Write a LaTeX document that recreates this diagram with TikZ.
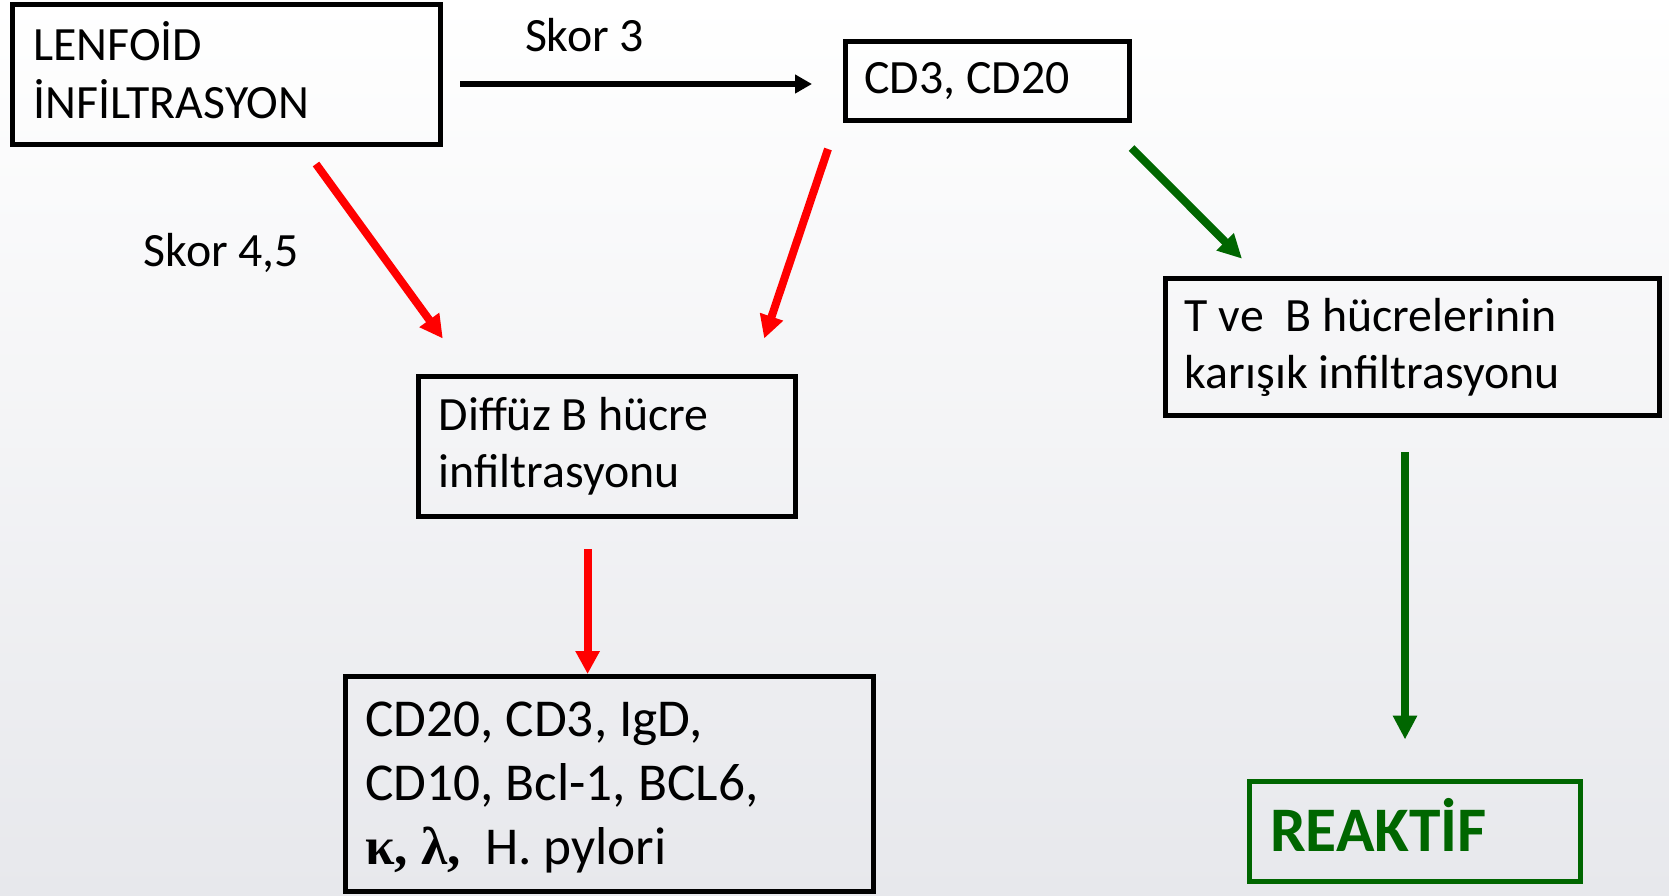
\documentclass[tikz,border=0pt]{standalone}
\usepackage{fontspec}
\setmainfont{Carlito}
\newfontfamily\grk{Liberation Serif}
\usetikzlibrary{arrows.meta}
\definecolor{rgreen}{RGB}{0,102,0}
\definecolor{bgbot}{RGB}{231,232,236}
\definecolor{bgtop}{RGB}{255,255,255}
\begin{document}
\begin{tikzpicture}[x=1pt,y=-1pt,
  box/.style={draw=black,line width=5pt,inner sep=0pt},
  gbox/.style={draw=rgreen,line width=5pt,inner sep=0pt},
  txt/.style={anchor=base west,inner sep=0pt,font=\fontsize{47.8}{57.5}\selectfont},
  txtl/.style={anchor=base west,inner sep=0pt,font=\fontsize{53.3}{64}\selectfont},
  blk/.style={draw=black,line width=6pt,-{Triangle[length=17pt,width=18pt]}},
  red/.style={draw=red,line width=8pt,-{Triangle[length=23pt,width=23pt]}},
  grn/.style={draw=rgreen,line width=8pt,-{Triangle[length=24pt,width=23pt]}}]
\useasboundingbox (0,0) rectangle (1669,895);
\shade[top color=bgtop,bottom color=bgbot] (0,0) rectangle (1669,895);

% boxes
\node[box,minimum width=428pt,minimum height=140pt] (lenf) at (226.5,74.5) {};
\node[box,minimum width=284.5pt,minimum height=79pt] (cd) at (987.7,80.5) {};
\node[box,minimum width=494pt,minimum height=137.6pt] (tvb) at (1412,347) {};
\node[box,minimum width=377pt,minimum height=140pt] (dif) at (607.2,446) {};
\node[box,minimum width=528.3pt,minimum height=215.7pt] (mark) at (609.4,784) {};
\node[gbox,minimum width=331pt,minimum height=100.5pt] (reak) at (1414.5,831.7) {};

% texts
\node[txt] (lenfA) at (33,60.7) {LENFOİD};
\node[txt] (lenfB) at (33,118.1) {İNFİLTRASYON};
\node[txt] (skor3) at (524.8,51) {Skor 3};
\node[txt] (cdA) at (864.3,93.7) {CD3, CD20};
\node[txt] (skor45) at (143.7,266) {Skor 4,5};
\node[txt] (tvbA) at (1184.7,331) {T ve\ \ B hücrelerinin};
\node[txt] (tvbB) at (1184.7,388.5) {karışık infiltrasyonu};
\node[txt] (difA) at (438.5,430) {Diffüz B hücre};
\node[txt] (difB) at (438.5,487.5) {infiltrasyonu};
\node[txtl] (markA) at (365,736.6) {CD20, CD3, IgD,};
\node[txtl] (markB) at (365,800.4) {CD10, Bcl-1, BCL6,};
\node[txtl] (markC) at (365,864.3) {{\grk\bfseries κ, λ,}\ \ H. pylori};
\node[anchor=base west,inner sep=0pt,font=\fontsize{63.5}{74}\selectfont\bfseries,text=rgreen] (reakT) at (1270,851.5) {REAKTİF};

% connector end points
\coordinate (a1) at (460,84);   \coordinate (a2) at (812,84);
\coordinate (r1a) at (316,164); \coordinate (r1b) at (442.8,338.5);
\coordinate (r2a) at (828,149); \coordinate (r2b) at (764.2,338.5);
\coordinate (r3a) at (587.6,549); \coordinate (r3b) at (587.6,674);
\coordinate (g1a) at (1131.5,148); \coordinate (g1b) at (1242,258.7);
\coordinate (g2a) at (1405,452.4); \coordinate (g2b) at (1405,739.5);

\draw[blk] (a1) -- (a2);
\draw[red] (r1a) -- (r1b);
\draw[red] (r2a) -- (r2b);
\draw[red] (r3a) -- (r3b);
\draw[grn] (g1a) -- (g1b);
\draw[grn] (g2a) -- (g2b);
\end{tikzpicture}
\end{document}
